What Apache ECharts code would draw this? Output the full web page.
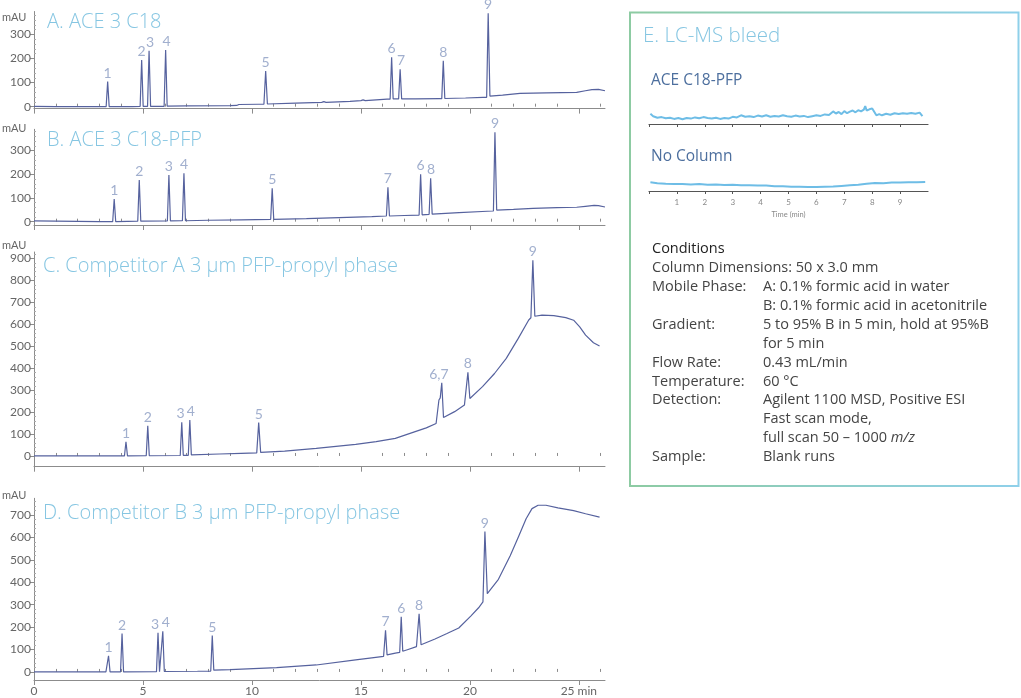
<!DOCTYPE html>
<html>
<head>
<meta charset="utf-8">
<script src="https://cdn.jsdelivr.net/npm/echarts@6.0.0/dist/echarts.min.js"></script>
<style>
html,body{margin:0;padding:0;background:#fff;}
#chart{width:1021px;height:698px;}
</style>
</head>
<body>
<div id="chart"></div>
<script>
// ---------------- DATA ----------------
const titles = ['A. ACE 3 C18', 'B. ACE 3 C18-PFP', 'C. Competitor A 3 µm PFP-propyl phase', 'D. Competitor B 3 µm PFP-propyl phase'];

const traceA = [[0,1],[1,0],[2,0],[3,0],
 [3.31,0],[3.38,104],[3.45,0],[4.5,0],
 [4.87,1],[4.94,194],[5.01,1],
 [5.21,1],[5.28,232],[5.35,1],
 [5.97,1],[6.04,235],[6.11,2],
 [7,3],[9,4],[9.3,5],[9.4,9],[10.3,10],
 [10.55,10],[10.63,148],[10.71,11],
 [12,15],[13.2,18],[13.3,21],[13.4,18],[14.5,22],[15.0,25],[15.1,28],[15.2,25],[16.2,31],
 [16.34,31],[16.41,205],[16.48,32],
 [16.73,32],[16.80,155],[16.87,32],
 [17.5,32],[18.6,33],
 [18.71,33],[18.78,190],[18.85,34],
 [19.8,36],[20.6,39],
 [20.77,39],[20.84,388],[20.92,44],
 [21.5,48],[22.3,55],[23.5,57],[24.9,59],[25.3,66],[25.6,71],[25.9,72],[26.2,66]];

const traceB = [[0,3],[1,2],[2,1],[3,0],
 [3.61,0],[3.68,96],[3.75,0],[4.3,1],
 [4.76,2],[4.83,176],[4.90,2],
 [6.12,3],[6.19,197],[6.26,3],
 [6.81,4],[6.88,204],[6.95,4],
 [8,6],[9.5,8],
 [10.86,10],[10.93,141],[11.0,10],
 [12.5,13],[14,17],[15.5,21],
 [16.17,24],[16.24,145],[16.31,24],
 [17,26],
 [17.67,28],[17.74,200],[17.81,29],
 [18.13,31],[18.20,183],[18.27,32],
 [19.5,38],[20.8,44],
 [21.08,45],[21.15,377],[21.23,49],
 [22,52],[22.9,56],[24,59],[24.9,61],[25.3,65],[25.7,69],[25.9,68],[26.2,62]];

const traceC = [[0,0],[4,0],
 [4.15,0],[4.22,65],[4.29,0],
 [5.15,1],[5.22,138],[5.29,1],
 [6.71,2],[6.78,153],[6.85,3],
 [7.08,3],[7.15,164],[7.22,5],
 [8.5,9],[9.5,12],
 [10.22,14],[10.31,152],[10.40,16],
 [11.5,22],[12.95,35],[14.76,53],[15.7,65],[16.58,80],[17.49,111],[18.0,128],[18.45,148],
 [18.52,155],[18.58,255],[18.64,265],[18.71,334],[18.79,175],
 [19.3,202],[19.75,232],
 [19.82,240],[19.91,381],[20.0,262],
 [20.58,316],[21.13,376],[21.67,445],[22.22,536],[22.7,620],
 [22.8,630],[22.89,892],[22.98,637],
 [23.31,642],[23.85,640],[24.4,631],[24.76,619],[25.04,589],[25.31,551],[25.67,516],[25.95,501]];

const traceD = [[0,0],[2.5,0],[3.3,0],
 [3.35,0],[3.42,72],[3.49,0],
 [3.97,0],[4.04,171],[4.11,0],
 [5.62,1],[5.69,174],[5.76,1],
 [5.84,1],[5.91,181],[5.98,2],
 [7.5,3],
 [8.11,4],[8.18,162],[8.25,8],
 [9,10],[11.13,19],[12.95,31],[14.76,54],[15.5,63],[16.04,69],
 [16.06,70],[16.13,186],[16.2,76],
 [16.58,84],
 [16.78,87],[16.85,246],[16.92,92],
 [17.13,99],[17.55,113],
 [17.6,114],[17.67,259],[17.76,121],
 [18.4,147],[18.95,171],[19.49,196],[20.04,249],[20.4,286],[20.6,312],
 [20.62,316],[20.69,626],[20.8,349],
 [21.31,413],[21.85,518],[22.22,600],[22.58,683],[22.85,728],[23.13,743],[23.49,743],[24.04,731],[24.76,719],[25.31,705],[25.95,690]];

const peaksA = [[3.38,104,'1'],[4.94,194,'2'],[5.32,232,'3'],[6.08,235,'4'],[10.63,148,'5'],[16.41,205,'6'],[16.84,155,'7'],[18.78,190,'8'],[20.84,388,'9']];
const peaksB = [[3.68,96,'1'],[4.83,176,'2'],[6.19,197,'3'],[6.88,204,'4'],[10.93,141,'5'],[16.24,145,'7'],[17.74,200,'6'],[18.22,183,'8'],[21.15,377,'9']];
const peaksC = [[4.22,65,'1'],[5.22,138,'2'],[6.72,153,'3'],[7.2,164,'4'],[10.31,152,'5'],[18.58,334,'6,7'],[19.91,381,'8'],[22.89,892,'9']];
const peaksD = [[3.42,72,'1'],[4.04,171,'2'],[5.55,174,'3'],[6.05,181,'4'],[8.18,162,'5'],[16.13,186,'7'],[16.85,246,'6'],[17.67,259,'8'],[20.69,626,'9']];

const bleedPFP = [[0.05,3.4],[0.15,2.6],[0.3,2.1],[0.45,2.3],[0.6,1.9],[0.75,2.1],[0.9,1.7],[1.05,2.0],[1.2,1.6],[1.35,2.0],[1.5,1.8],[1.65,2.2],[1.8,1.9],[1.95,2.3],[2.1,2.0],[2.25,1.8],[2.4,2.1],[2.55,1.7],[2.7,2.0],[2.85,1.8],[3.0,2.4],[3.15,2.2],[3.3,2.9],[3.45,2.4],[3.6,2.6],[3.75,2.3],[3.9,2.8],[4.05,2.5],[4.2,2.9],[4.35,2.4],[4.5,2.7],[4.65,2.5],[4.8,2.9],[4.95,2.6],[5.1,2.4],[5.25,2.8],[5.4,2.5],[5.55,2.7],[5.7,2.3],[5.85,2.6],[6.0,2.9],[6.15,2.7],[6.3,3.2],[6.45,3.0],[6.6,4.2],[6.7,3.5],[6.8,4.0],[6.9,3.3],[7.0,4.3],[7.1,3.6],[7.2,4.1],[7.3,4.5],[7.4,3.9],[7.5,4.6],[7.6,4.2],[7.7,4.8],[7.75,6.0],[7.8,4.5],[7.9,4.9],[8.0,5.2],[8.05,4.6],[8.15,2.9],[8.25,3.3],[8.35,2.9],[8.5,3.4],[8.65,3.1],[8.8,3.6],[8.95,3.3],[9.1,3.6],[9.25,3.4],[9.4,3.7],[9.55,3.4],[9.7,3.8],[9.8,2.6]];
const bleedNone = [[0.05,2.9],[0.3,2.6],[0.6,2.4],[0.9,2.3],[1.2,2.3],[1.5,2.2],[1.8,2.3],[2.1,2.1],[2.4,2.2],[2.7,2.0],[3.0,2.1],[3.3,1.9],[3.6,1.9],[3.9,1.8],[4.2,1.8],[4.5,1.6],[4.8,1.6],[5.1,1.4],[5.4,1.4],[5.7,1.3],[6.0,1.3],[6.3,1.4],[6.6,1.5],[6.9,1.7],[7.2,1.9],[7.5,2.1],[7.8,2.4],[8.1,2.7],[8.4,2.6],[8.7,2.8],[9.0,2.8],[9.3,2.9],[9.6,2.9],[9.9,3.0]];

const xMajorTicks = [0,5,10,15,20,25];
const yLabelsA = [0,100,200,300];
const yLabelsB = [0,100,200,300];
const yLabelsC = [0,100,200,300,400,500,600,700,800,900];
const yLabelsD = [0,100,200,300,400,500,600,700];
const bleedTicks = [0,1,2,3,4,5,6,7,8,9];
const bleedLabels = [1,2,3,4,5,6,7,8,9];

const conditions = [
 ['Column Dimensions: 50 x 3.0 mm', ''],
 ['Mobile Phase:', 'A: 0.1% formic acid in water'],
 ['', 'B: 0.1% formic acid in acetonitrile'],
 ['Gradient:', '5 to 95% B in 5 min, hold at 95%B'],
 ['', 'for 5 min'],
 ['Flow Rate:', '0.43 mL/min'],
 ['Temperature:', '60 °C'],
 ['Detection:', 'Agilent 1100 MSD, Positive ESI'],
 ['', 'Fast scan mode,'],
 ['', 'full scan 50 – 1000 {i|m/z}'],
 ['Sample:', 'Blank runs']
];

// ---------------- LAYOUT ----------------
const FONT = 'Lato';
const WIDE = '"Open Sans"';
const LINE = '#56629e';
const LABEL = '#8a9bc2';
const TITLE = '#86c6e2';
const AXIS = '#8c8c8c';

const panels = [
  {trace: traceA, peaks: peaksA, labels: yLabelsA, top: 11.5, height: 97.1, min: -8, max: 395, step: 20, titleY: 22, mauY: 17},
  {trace: traceB, peaks: peaksB, labels: yLabelsB, top: 129.3, height: 95.7, min: -14, max: 390, step: 20, titleY: 140, mauY: 128},
  {trace: traceC, peaks: peaksC, labels: yLabelsC, top: 252, height: 214.7, min: -49, max: 930, step: 20, titleY: 266, mauY: 245},
  {trace: traceD, peaks: peaksD, labels: yLabelsD, top: 498.3, height: 181.7, min: -36, max: 774, step: 20, titleY: 513, mauY: 495}
];

function txt(x, y, text, fill, font, extra) {
  const st = Object.assign({text: text, fill: fill, font: font, x: 0, y: 0, verticalAlign: 'middle', align: 'left'}, extra || {});
  return {type: 'text', x: x, y: y, style: st, silent: true};
}

const grids = [], xAxes = [], yAxes = [], series = [], graphics = [];
const XMAX = 26.2;
const xMinorTicks = [];
for (let i = 1; i <= 26; i++) if (i % 5) xMinorTicks.push(i);

panels.forEach((p, i) => {
  grids.push({left: 34, right: 416, top: p.top, height: p.height});
  const isLast = i === 3;
  xAxes.push({
    gridIndex: i, type: 'value', min: 0, max: XMAX,
    axisLine: {show: true, onZero: false, lineStyle: {color: AXIS, width: 1}},
    axisTick: {show: true, interval: 0, length: 5, customValues: xMajorTicks, lineStyle: {color: AXIS}},
    axisLabel: {show: isLast, interval: 0, customValues: xMajorTicks, color: '#666', fontFamily: FONT, fontSize: 12, margin: 5,
      formatter: v => (v === 25 ? '25 min' : String(v))},
    splitLine: {show: false}
  });
  xAxes.push({
    gridIndex: i, type: 'value', min: 0, max: XMAX,
    axisLine: {show: false},
    axisTick: {show: true, interval: 0, length: 3, customValues: xMinorTicks, lineStyle: {color: AXIS}},
    axisLabel: {show: false},
    splitLine: {show: false}
  });
  const minor = [];
  for (let v = 0; v <= p.max; v += p.step) if (v % 100) minor.push(v);
  yAxes.push({
    gridIndex: i, type: 'value', min: p.min, max: p.max,
    axisLine: {show: true, onZero: false, lineStyle: {color: AXIS, width: 1}},
    axisTick: {show: true, interval: 0, length: 4, customValues: p.labels, lineStyle: {color: AXIS}},
    axisLabel: {show: true, interval: 0, customValues: p.labels, color: '#666', fontFamily: FONT, fontSize: 12, margin: 3},
    splitLine: {show: false}
  });
  yAxes.push({
    gridIndex: i, type: 'value', min: p.min, max: p.max,
    axisLine: {show: false},
    axisTick: {show: true, interval: 0, length: 2, customValues: minor, lineStyle: {color: '#aaa'}},
    axisLabel: {show: false},
    splitLine: {show: false}
  });
  series.push({
    type: 'line', xAxisIndex: 2 * i, yAxisIndex: 2 * i, data: p.trace,
    showSymbol: false, symbol: 'none', silent: true,
    lineStyle: {color: LINE, width: 1.2}, z: 3
  });
  series.push({
    type: 'scatter', xAxisIndex: 2 * i, yAxisIndex: 2 * i,
    data: p.peaks.map(d => ({value: [d[0], d[1]], name: d[2]})),
    symbolSize: 1, itemStyle: {color: 'rgba(0,0,0,0)'}, silent: true, z: 4,
    label: {show: true, position: 'top', distance: 1, formatter: prm => prm.name,
      color: LABEL, fontFamily: FONT, fontSize: 14}
  });
  graphics.push(txt(i < 2 ? 47 : 43, p.titleY, titles[i], TITLE, '300 20px ' + WIDE));
  graphics.push(txt(2, p.mauY, 'mAU', '#666', '11px ' + FONT));
});

// Panel E mini charts
const mini = [{data: bleedPFP, top: 94, labels: false}, {data: bleedNone, top: 161, labels: true}];
mini.forEach((m, k) => {
  const gi = 4 + k;
  grids.push({left: 649, width: 279, top: m.top, height: 30});
  xAxes.push({
    gridIndex: gi, type: 'value', min: 0, max: 10,
    axisLine: {show: true, onZero: false, lineStyle: {color: '#555', width: 1.2}},
    axisTick: {show: true, interval: 0, length: 3, customValues: bleedTicks, lineStyle: {color: '#555'}},
    axisLabel: {show: m.labels, interval: 0, customValues: bleedLabels, color: '#888', fontFamily: FONT, fontSize: 8, margin: 7},
    name: m.labels ? 'Time (min)' : '', nameLocation: 'middle', nameGap: 20,
    nameTextStyle: {color: '#888', fontFamily: FONT, fontSize: 7.5},
    splitLine: {show: false}
  });
  yAxes.push({gridIndex: gi, type: 'value', min: 0, max: 10, show: false});
  series.push({
    type: 'line', xAxisIndex: xAxes.length - 1, yAxisIndex: yAxes.length - 1, data: m.data,
    showSymbol: false, symbol: 'none', silent: true,
    lineStyle: {color: '#6ebde6', width: 2}
  });
});

// Panel E box and texts
graphics.push({type: 'rect', shape: {x: 630, y: 12.5, width: 388.5, height: 473.5}, silent: true,
  style: {fill: 'none', lineWidth: 2,
    stroke: {type: 'linear', x: 0, y: 0, x2: 1, y2: 0, global: false,
      colorStops: [{offset: 0, color: '#8dcba2'}, {offset: 1, color: '#8fd0ea'}]}}});
graphics.push(txt(643, 36, 'E. LC-MS bleed', TITLE, '300 20.5px ' + WIDE));
graphics.push(txt(651, 81, 'ACE C18-PFP', '#4d6f9e', '15.5px ' + WIDE));
graphics.push(txt(651, 157, 'No Column', '#4d6f9e', '15.5px ' + WIDE));
graphics.push(txt(652, 249, 'Conditions', '#222', '14.5px ' + WIDE));
conditions.forEach((r, k) => {
  const y = 268 + 18.9 * k;
  if (r[0]) graphics.push(txt(652, y, r[0], '#444', '14.5px ' + WIDE));
  if (r[1]) graphics.push(txt(763, y, r[1], '#444', '14.5px ' + WIDE,
    {rich: {i: {fontStyle: 'italic', fontFamily: 'Open Sans', fontSize: 14.5, fill: '#444'}}}));
});

const chart = echarts.init(document.getElementById('chart'), null, {renderer: 'canvas'});
chart.setOption({
  animation: false,
  backgroundColor: '#fff',
  grid: grids, xAxis: xAxes, yAxis: yAxes, series: series, graphic: graphics
});
</script>
</body>
</html>
